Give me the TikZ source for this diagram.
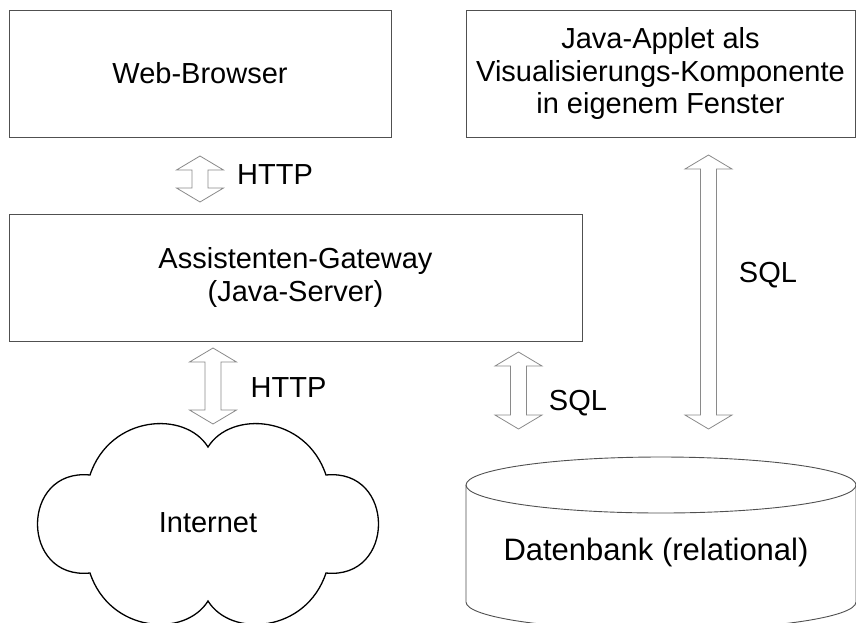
\documentclass[tikz,border=0pt]{standalone}
\usepackage{fontspec}
\setmainfont{Liberation Sans}
\definecolor{boxline}{HTML}{505050}
\definecolor{arrowline}{HTML}{8A8A8A}
\tikzset{
  box/.style={draw=boxline, line width=1pt, inner sep=0pt, align=center,
    font=\fontsize{29}{32.5}\selectfont},
  lbl/.style={inner sep=0pt, font=\fontsize{29}{32.5}\selectfont},
  blockarrow/.style={draw=arrowline, line width=0.8pt, fill=white, line join=miter},
  cloudline/.style={draw=black, line width=1.3pt},
  dbline/.style={draw=boxline, line width=0.9pt}
}
% hollow double-headed block arrow: centre x, top tip y, bottom tip y
\newcommand\hollowarrow[3]{%
  \path[blockarrow] (#1,#2) -- ({#1+23.5},{#2+14}) -- ({#1+8},{#2+14})
    -- ({#1+8},{#3-14}) -- ({#1+23.5},{#3-14}) -- (#1,#3)
    -- ({#1-23.5},{#3-14}) -- ({#1-8},{#3-14}) -- ({#1-8},{#2+14})
    -- ({#1-23.5},{#2+14}) -- cycle;}
\begin{document}
\begin{tikzpicture}[x=1pt,y=-1pt]
\path[use as bounding box] (0,0) rectangle (856,622);
\clip (0,0) rectangle (856,622);

% boxes
\node[box, minimum width=382pt, minimum height=127pt] (web) at (200,73.5) {Web-Browser};
\node[box, minimum width=389pt, minimum height=127pt] (applet) at (660.5,73.5)
  {Java-Applet als\\Visualisierungs-Komponente\\in eigenem Fenster};
\node[box, minimum width=573pt, minimum height=127pt] (gw) at (295.5,277.5)
  {Assistenten-Gateway\\(Java-Server)};

% cloud
\coordinate (cT) at (208,447);
\coordinate (cB) at (208,601);
\path[cloudline, fill=white]
  (90,475) .. controls (110,415) and (185,410) .. (cT)
  .. controls (231,410) and (306,415) .. (326,475)
  .. controls (396,468) and (396,580) .. (326,573)
  .. controls (306,633) and (231,638) .. (cB)
  .. controls (185,638) and (110,633) .. (90,573)
  .. controls (20,580) and (20,468) .. cycle;
\node[lbl] (inet) at (208,523) {Internet};

% database cylinder
\path[dbline, fill=white] (466,485) -- (466,602)
  .. controls (466,617.5) and (553.3,630) .. (661,630)
  .. controls (768.7,630) and (856,617.5) .. (856,602) -- (856,485);
\draw[dbline] (661,485) ellipse [x radius=195, y radius=28];
\node[lbl, font=\fontsize{31}{34}\selectfont] (db) at (656,552) {Datenbank (relational)};

% connectors
\coordinate (a1) at (200,179);
\hollowarrow{200}{156}{202}
\node[lbl] (http1) at (275,175) {HTTP};
\coordinate (a2) at (213,386);
\hollowarrow{213}{348}{424}
\node[lbl] (http2) at (288.5,388) {HTTP};
\coordinate (a3) at (518.5,390);
\hollowarrow{518.5}{352}{429}
\node[lbl] (sql1) at (578,403) {SQL};
\coordinate (a4) at (708.5,292);
\hollowarrow{708.5}{155}{429}
\node[lbl] (sql2) at (768,275) {SQL};
\end{tikzpicture}
\end{document}
